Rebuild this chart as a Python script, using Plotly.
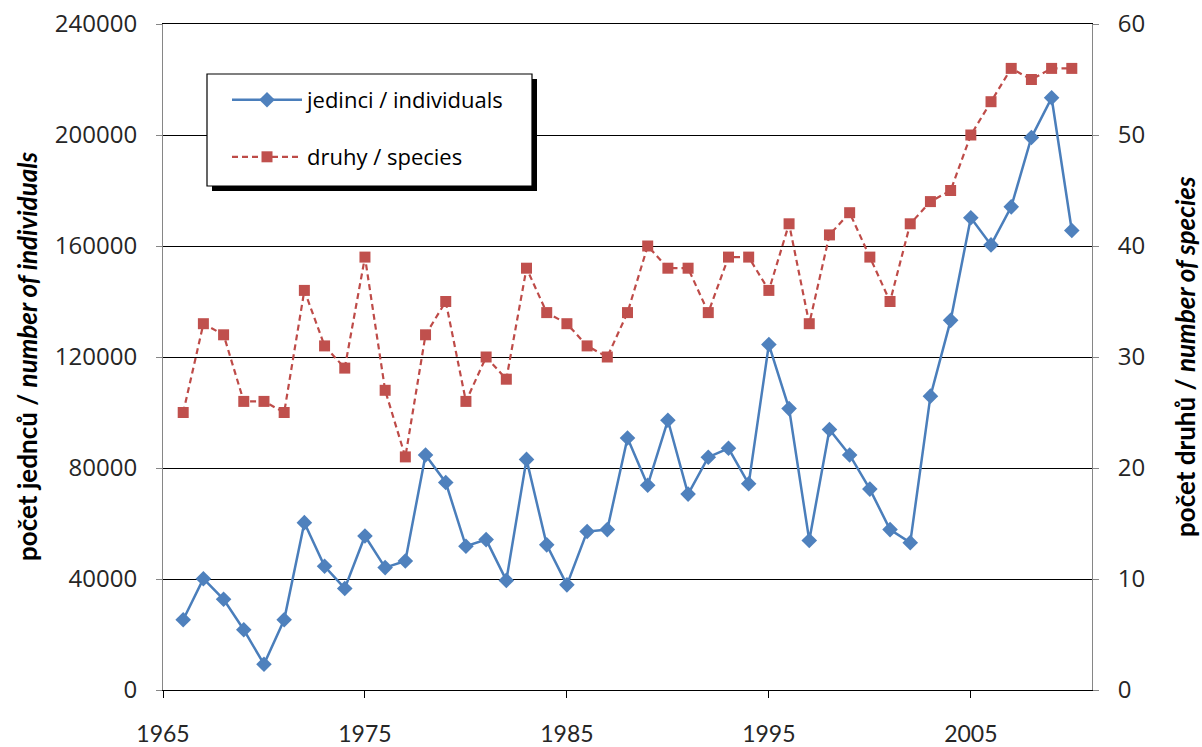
import plotly.graph_objects as go

years = list(range(1966, 2011))
individuals = [25300, 40100, 32700, 21700, 9300, 25300, 60300, 44600, 36600, 55500,
               44100, 46500, 84700, 74800, 51800, 54200, 39500, 83100, 52300, 37900,
               57100, 57800, 90800, 73800, 97200, 70600, 83900, 87100, 74300, 124500,
               101400, 53900, 93900, 84700, 72400, 57800, 53100, 105900, 133200, 170200,
               160400, 174100, 199100, 213400, 165600]
species = [25, 33, 32, 26, 26, 25, 36, 31, 29, 39,
           27, 21, 32, 35, 26, 30, 28, 38, 34, 33,
           31, 30, 34, 40, 38, 38, 34, 39, 39, 36,
           42, 33, 41, 43, 39, 35, 42, 44, 45, 50,
           53, 56, 55, 56, 56]

name_ind = "jedinci / individuals"
name_sp = "druhy / species"
title_left = "<b>počet jednců / <i>number of individuals</i></b>"
title_right = "<b>počet druhů / <i>number of species</i></b>"

BLUE_L, BLUE_M = "#4A7EBB", "#4F81BD"
RED_L, RED_M = "#BE4B48", "#C0504D"

fig = go.Figure()
fig.add_trace(go.Scatter(
    x=years, y=individuals, name=name_ind, mode="lines+markers",
    line=dict(color=BLUE_L, width=2.5),
    marker=dict(symbol="diamond", size=12, color=BLUE_M),
    legend="legend", yaxis="y"))
fig.add_trace(go.Scatter(
    x=years, y=species, name=name_sp, mode="lines+markers",
    line=dict(color=RED_L, width=2.2, dash="6px,4px"),
    marker=dict(symbol="square", size=11, color=RED_M),
    legend="legend2", yaxis="y2"))

# plot area: left 163, right 1092, top 24, bottom 690 (px)
W, H = 1202, 747
L, R, T, B = 163, 1092, 24, 690
pw, ph = R - L, B - T

def px(xp):
    return (xp - L) / pw

def py(yp):
    return (B - yp) / ph

shapes = [
    dict(type="rect", xref="paper", yref="paper", layer="above",
         x0=px(212), x1=px(537), y0=py(191), y1=py(79),
         fillcolor="black", line=dict(width=0)),
    dict(type="rect", xref="paper", yref="paper", layer="above",
         x0=px(207), x1=px(532), y0=py(186), y1=py(74),
         fillcolor="white", line=dict(color="black", width=1.2)),
]

tickfont_y = dict(family="Open Sans", size=24, color="#262626")
tickfont_x = dict(family="Lato", size=23, color="#262626")
legfont = dict(family="Open Sans", size=22, color="black")
titlefont = dict(family="Lato", size=26, color="black")

fig.update_layout(
    width=W, height=H,
    margin=dict(l=L, r=W - R, t=T, b=H - B, autoexpand=False),
    plot_bgcolor="white", paper_bgcolor="white",
    showlegend=True,
    shapes=shapes,
    xaxis=dict(range=[1965, 2011], tick0=1965, dtick=10, ticks="outside", ticklen=7,
               tickcolor="black", showline=True, linecolor="black", linewidth=1,
               mirror=True, showgrid=False, zeroline=False, tickfont=tickfont_x,
               ticklabelstandoff=16, automargin=False),
    yaxis=dict(range=[0, 240000], tick0=0, dtick=40000, ticks="outside", ticklen=6,
               tickcolor="#868686", showline=True, linecolor="#868686", linewidth=1,
               showgrid=True, gridcolor="black", gridwidth=1, zeroline=False,
               tickformat="d", tickfont=tickfont_y, ticklabelstandoff=14,
               automargin=False),
    yaxis2=dict(range=[0, 60], tick0=0, dtick=10, ticks="outside", ticklen=6,
                tickcolor="#868686", showline=True, linecolor="#868686", linewidth=1,
                overlaying="y", side="right", showgrid=False, zeroline=False,
                tickfont=tickfont_y, ticklabelstandoff=14, automargin=False),
    legend=dict(x=px(227), y=py(100), xanchor="left", yanchor="middle",
                bgcolor="rgba(0,0,0,0)", borderwidth=0, font=legfont, itemwidth=70,
                itemclick=False),
    legend2=dict(x=px(227), y=py(157), xanchor="left", yanchor="middle",
                 bgcolor="rgba(0,0,0,0)", borderwidth=0, font=legfont, itemwidth=70,
                 itemclick=False),
    annotations=[
        dict(text=title_left, xref="paper", yref="paper", x=px(27), y=0.5,
             xanchor="center", yanchor="middle", textangle=-90, showarrow=False,
             font=titlefont),
        dict(text=title_right, xref="paper", yref="paper", x=px(1185), y=0.5,
             xanchor="center", yanchor="middle", textangle=-90, showarrow=False,
             font=titlefont),
    ],
)

fig.write_html("out.html", config={"displayModeBar": False},
               post_script="document.body.style.margin='0';document.body.style.padding='0';document.body.style.overflow='hidden';")
